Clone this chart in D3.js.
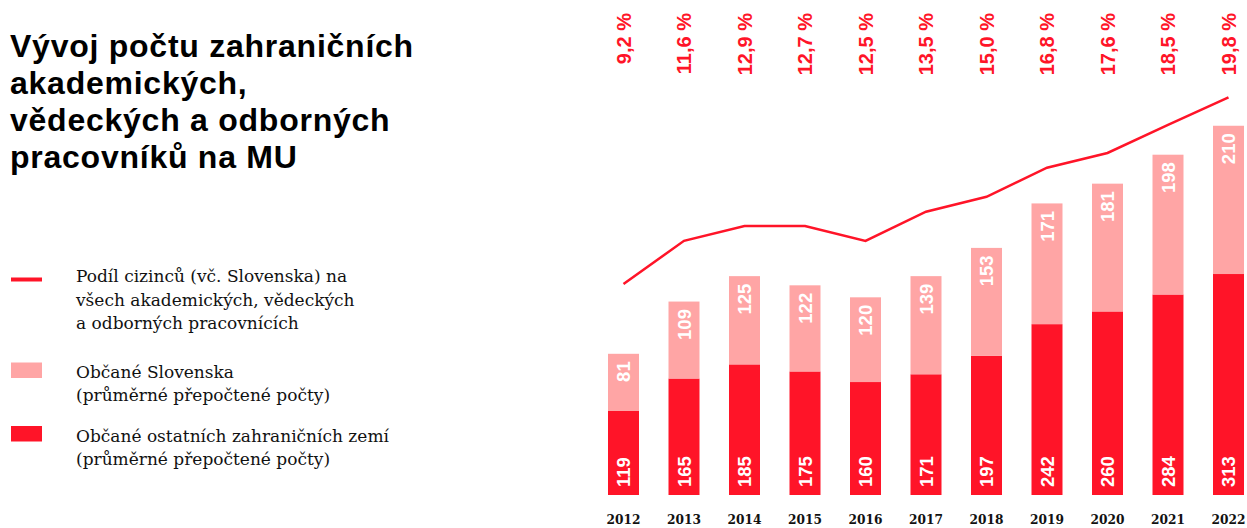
<!DOCTYPE html>
<html><head><meta charset="utf-8">
<script src="https://cdn.jsdelivr.net/npm/d3@7"></script>
<style>
html,body{margin:0;padding:0;background:#fff;}
svg{display:block;}
</style></head>
<body>
<svg id="chart" width="1247" height="528"></svg>
<script>
const years = ["2012","2013","2014","2015","2016","2017","2018","2019","2020","2021","2022"];
const otherCountries = [119,165,185,175,160,171,197,242,260,284,313];
const slovakia = [81,109,125,122,120,139,153,171,181,198,210];
const shareLabels = ["9,2 %","11,6 %","12,9 %","12,7 %","12,5 %","13,5 %","15,0 %","16,8 %","17,6 %","18,5 %","19,8 %"];
const shareLine = [9.2,11.66,12.5,12.5,11.65,13.31,14.16,15.81,16.65,18.24,19.81];
const titleLines = ["Vývoj počtu zahraničních","akademických,","vědeckých a odborných","pracovníků na MU"];
const legendItems = [
  {type:"line", lines:["Podíl cizinců (vč. Slovenska) na","všech akademických, vědeckých","a odborných pracovnících"]},
  {type:"light", lines:["Občané Slovenska","(průměrné přepočtené počty)"]},
  {type:"dark", lines:["Občané ostatních zahraničních zemí","(průměrné přepočtené počty)"]}
];

const RED = "#ff1428", PINK = "#ffa5a5";
const svg = d3.select("#chart");

// title
svg.append("text")
  .attr("font-family","'Liberation Sans', Arial, sans-serif")
  .attr("font-weight","bold").attr("font-size",32).attr("letter-spacing",0.75).attr("fill","#000")
  .selectAll("tspan").data(titleLines).join("tspan")
  .attr("x",10).attr("y",(d,i)=>57+i*37).text(d=>d);

// legend
const legY = [282, 377.5, 441.5];
const leg = svg.append("g");
legendItems.forEach((it,i)=>{
  if(it.type==="line"){
    leg.append("rect").attr("x",11).attr("y",277.5).attr("width",31).attr("height",4).attr("fill",RED);
  } else {
    leg.append("rect").attr("x",11).attr("y", it.type==="light"?362.5:426).attr("width",31).attr("height",15.5)
      .attr("fill", it.type==="light"?PINK:RED);
  }
  leg.append("text")
    .attr("font-family","'DejaVu Serif', serif")
    .attr("font-size",17).attr("fill","#111")
    .selectAll("tspan").data(it.lines).join("tspan")
    .attr("x",76).attr("y",(d,j)=>legY[i]+j*23.5).text(d=>d);
});

// scales
const x = d3.scaleBand().domain(years).range([593.25, 1258.75]).paddingInner(0.4876).paddingOuter(0.2438);
const y = d3.scaleLinear().domain([0,600]).range([495, 495-600*0.706]);
const yLine = d3.scaleLinear().domain([0,25]).range([446, 446-25*17.6]);

const data = years.map((yr,i)=>({yr, a:otherCountries[i], b:slovakia[i], lbl:shareLabels[i], s:shareLine[i]}));

// bars
const g = svg.append("g");
g.selectAll("rect.dark").data(data).join("rect").attr("class","dark")
  .attr("x",d=>x(d.yr)).attr("width",x.bandwidth())
  .attr("y",d=>y(d.a)).attr("height",d=>y(0)-y(d.a)).attr("fill",RED);
g.selectAll("rect.light").data(data).join("rect").attr("class","light")
  .attr("x",d=>x(d.yr)).attr("width",x.bandwidth())
  .attr("y",d=>y(d.a+d.b)).attr("height",d=>y(d.a)-y(d.a+d.b)).attr("fill",PINK);

const cx = d=>x(d.yr)+x.bandwidth()/2;
const labelFont = "'Liberation Sans', Arial, sans-serif";
// bottom labels
g.selectAll("text.vd").data(data).join("text").attr("class","vd")
  .attr("transform",d=>`translate(${cx(d)},${y(0)-8}) rotate(-90)`)
  .attr("dy","0.36em").attr("text-anchor","start")
  .attr("font-family",labelFont).attr("font-weight","bold").attr("font-size",18.5).attr("fill","#fff")
  .text(d=>d.a);
// top labels
g.selectAll("text.vl").data(data).join("text").attr("class","vl")
  .attr("transform",d=>`translate(${cx(d)},${y(d.a+d.b)+7.5}) rotate(-90)`)
  .attr("dy","0.36em").attr("text-anchor","end")
  .attr("font-family",labelFont).attr("font-weight","bold").attr("font-size",18.5).attr("fill","#fff")
  .text(d=>d.b);

// line
g.append("path").datum(data)
  .attr("d", d3.line().x(d=>cx(d)).y(d=>yLine(d.s)))
  .attr("fill","none").attr("stroke",RED).attr("stroke-width",2.5);

// percentage labels
g.selectAll("text.pct").data(data).join("text").attr("class","pct")
  .attr("transform",d=>`translate(${cx(d)},13) rotate(-90)`)
  .attr("dy","0.36em").attr("text-anchor","end")
  .attr("font-family",labelFont).attr("font-weight","bold").attr("font-size",20).attr("fill",RED)
  .text(d=>d.lbl);

// x axis
const xAxis = d3.axisBottom(x).tickSize(0).tickPadding(0);
const ax = svg.append("g").attr("transform","translate(0,515)").call(xAxis);
ax.select(".domain").remove();
ax.selectAll("text").attr("font-family","'DejaVu Serif', serif").attr("font-weight","bold")
  .attr("font-size",12.2).attr("fill","#111").attr("dy","0.71em").attr("y",0);
</script>
</body></html>
